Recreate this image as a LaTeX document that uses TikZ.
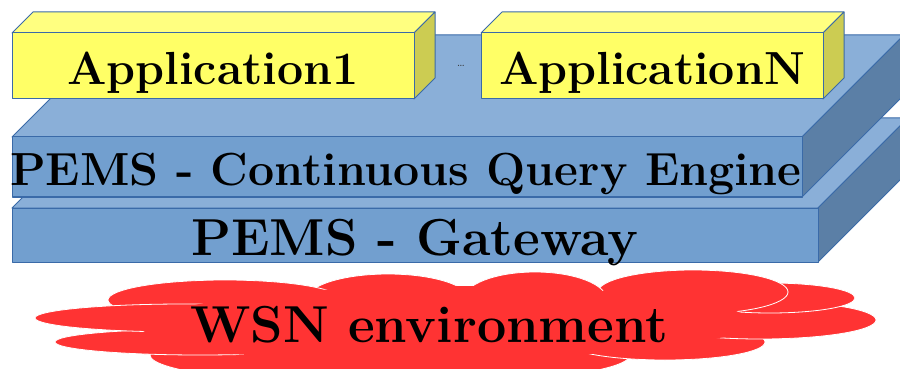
\documentclass[tikz,border=0pt]{standalone}
\usepackage{xcolor}
\usepackage{tikz}
\usetikzlibrary{positioning}
\definecolor{APPyellow}{HTML}{FFFF66}
\definecolor{APPyellowTop}{HTML}{FFFF80}
\definecolor{APPyellowSide}{HTML}{CCCC52}
\definecolor{PEMSblue}{HTML}{729FCF}
\definecolor{PEMSblueTop}{HTML}{8AAFD8}
\definecolor{PEMSblueSide}{HTML}{5B7FA6}
\definecolor{PEMSline}{HTML}{3A6AA8}
\definecolor{WSNred}{HTML}{FF3333}
\tikzset{
  face/.style={draw=PEMSline,line width=0.5pt,line join=round},
  puff/.style={fill=WSNred,draw=white,line width=0.4pt},
  layertxt/.style={anchor=base,inner sep=0pt,font=\fontsize{23.2}{27}\selectfont\bfseries},
  bigtxt/.style={anchor=base,inner sep=0pt,font=\fontsize{26}{30}\selectfont\bfseries}
}

\begin{document}
\begin{tikzpicture}[x=0.5pt,y=-0.5pt]
        \useasboundingbox (0,0) rectangle (900,369);
        \clip (0,0) rectangle (900,369);
        % WSN cloud: puffs first, then the inner fill hides their inner edges
        \foreach \cx/\cy/\rx/\ry in {390/355/240/30, 665/342/100/18, 760/320/116/19,
                                     770/298/85/15, 693/292/95/22, 535/300/72/28,
                                     388/300/82/26, 225/300/117/20, 200/342/145/13,
                                     185/318/150/14}
          \draw[puff] (\cx,\cy) ellipse [x radius=\rx, y radius=\ry];
        \fill[WSNred] (455,322) ellipse [x radius=295, y radius=36];
        \fill[WSNred] (300,336) ellipse [x radius=160, y radius=20];
        \node[bigtxt] (wsn) at (429,342) {WSN environment};
        % PEMS - Gateway
        \draw[face,fill=PEMSblueTop] (12,208) -- (102,118) -- (908,118) -- (818,208) -- cycle;
        \draw[face,fill=PEMSblueSide] (818,208) -- (908,118) -- (908,172) -- (818,262) -- cycle;
        \draw[face,fill=PEMSblue] (12,208) rectangle (818,262);
        \node[bigtxt] (gw) at (415,256) {PEMS - Gateway};
        % PEMS - Continuous Query Engine
        \draw[face,fill=PEMSblueTop] (12,137) -- (114,35) -- (904,35) -- (802,137) -- cycle;
        \draw[face,fill=PEMSblueSide] (802,137) -- (904,35) -- (904,95) -- (802,197) -- cycle;
        \draw[face,fill=PEMSblue] (12,137) rectangle (802,197);
        \node[layertxt] (cqe) at (406,185) {PEMS - Continuous Query Engine};
        % applications
        \draw[face,fill=APPyellowTop] (12,33) -- (33,12) -- (435,12) -- (414,33) -- cycle;
        \draw[face,fill=APPyellowSide] (414,33) -- (435,12) -- (435,78) -- (414,99) -- cycle;
        \draw[face,fill=APPyellow] (12,33) rectangle (414,99);
        \node[layertxt] (app1) at (213,85) {Application1};
        \draw[face,fill=APPyellowTop] (481,33) -- (502,12) -- (844,12) -- (823,33) -- cycle;
        \draw[face,fill=APPyellowSide] (823,33) -- (844,12) -- (844,78) -- (823,99) -- cycle;
        \draw[face,fill=APPyellow] (481,33) rectangle (823,99);
        \node[layertxt] (appN) at (652,85) {ApplicationN};
        \node[font=\fontsize{5}{6}\selectfont,inner sep=0pt,text=black!80] (dots) at (461,66) {\ldots};
      \end{tikzpicture}
\end{document}
